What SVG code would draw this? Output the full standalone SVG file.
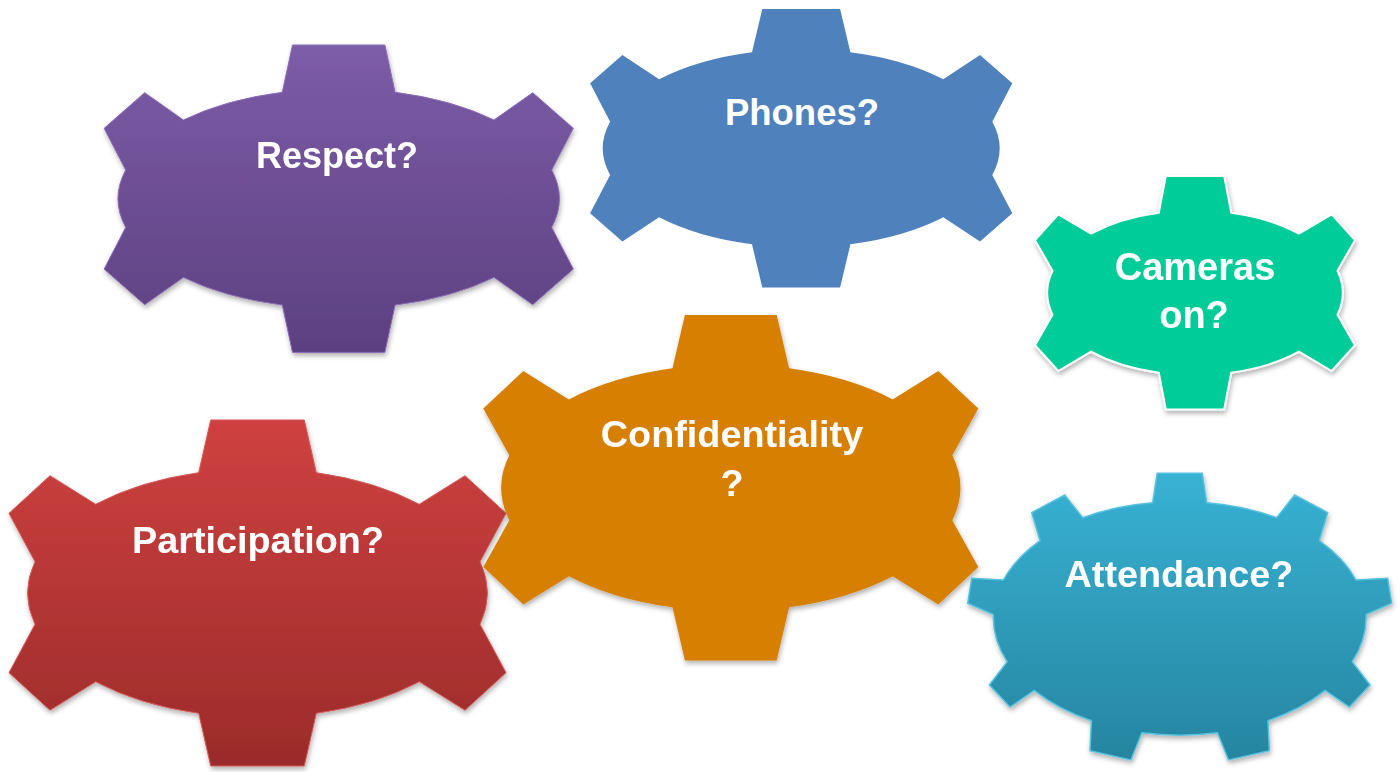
<svg xmlns="http://www.w3.org/2000/svg" width="1400" height="772" viewBox="0 0 1400 772">
<defs>
<linearGradient id="gPurple" x1="0" y1="0" x2="0" y2="1">
<stop offset="0" stop-color="#7D5CA8"/><stop offset="1" stop-color="#5C4080"/>
</linearGradient>
<linearGradient id="gRed" x1="0" y1="0" x2="0" y2="1">
<stop offset="0" stop-color="#CF4140"/><stop offset="1" stop-color="#9B2B2A"/>
</linearGradient>
<linearGradient id="gCyan" x1="0" y1="0" x2="0" y2="1">
<stop offset="0" stop-color="#38B2D4"/><stop offset="1" stop-color="#2685A0"/>
</linearGradient>
<filter id="shadow" x="-10%" y="-10%" width="120%" height="125%">
<feDropShadow dx="1" dy="3" stdDeviation="2.5" flood-color="#000" flood-opacity="0.3"/>
</filter>
</defs>
<style>
.lbl{font-family:"Liberation Sans",Arial,sans-serif;font-weight:bold;fill:#fff;text-anchor:middle}
</style>
<rect width="1400" height="772" fill="#fff"/>
<g id="connectors"/>
<g id="respect" filter="url(#shadow)">
<path fill="url(#gPurple)" stroke="#8B6CB6" stroke-width="1" d="M 282.3,92.3 L 292.5,45 L 384.9,45 L 395.1,92.3 A 220 110 0 0 1 494,120 L 532.7,92.7 L 573.3,128.3 L 551.7,170 A 220 110 0 0 1 551.7,227.4 L 573.3,269.1 L 532.7,304.7 L 494,277.4 A 220 110 0 0 1 395.1,305.1 L 384.9,352.4 L 292.5,352.4 L 282.3,305.1 A 220 110 0 0 1 183.4,277.4 L 144.7,304.7 L 104.1,269.1 L 125.7,227.4 A 220 110 0 0 1 125.7,170 L 104.1,128.3 L 144.7,92.7 L 183.4,120 A 220 110 0 0 1 282.3,92.3 Z"/>
<text class="lbl" x="337" y="168" font-size="36">Respect?</text>
</g>
<g id="phones">
<path fill="#4F81BD" d="M 752,52.3 L 762.3,9 L 840.1,9 L 850.4,52.3 A 197.8 99.1 0 0 1 943.3,79.3 L 980,55 L 1012.3,83.3 L 992.3,121.7 A 197.8 99.1 0 0 1 992.3,174.9 L 1012.3,213.3 L 980,241.6 L 943.3,217.3 A 197.8 99.1 0 0 1 850.4,244.3 L 840.1,287.6 L 762.3,287.6 L 752,244.3 A 197.8 99.1 0 0 1 659.1,217.3 L 622.4,241.6 L 590.1,213.3 L 610.1,174.9 A 197.8 99.1 0 0 1 610.1,121.7 L 590.1,83.3 L 622.4,55 L 659.1,79.3 A 197.8 99.1 0 0 1 752,52.3 Z"/>
<text class="lbl" x="802" y="124.5" font-size="36.5">Phones?</text>
</g>
<g id="cameras" filter="url(#shadow)">
<path fill="#00CC99" stroke="#fff" stroke-width="2" d="M 1158.8,212.7 L 1165.8,176 L 1224.2,176 L 1231.2,212.7 A 145.5 82.6 0 0 1 1299,233.7 L 1331.7,214.4 L 1355,240.2 L 1337.5,270.7 A 145.5 82.6 0 0 1 1337.5,314.7 L 1355,345.2 L 1331.7,371 L 1299,351.7 A 145.5 82.6 0 0 1 1231.2,372.7 L 1224.2,409.4 L 1165.8,409.4 L 1158.8,372.7 A 145.5 82.6 0 0 1 1091,351.7 L 1058.3,371 L 1035,345.2 L 1052.5,314.7 A 145.5 82.6 0 0 1 1052.5,270.7 L 1035,240.2 L 1058.3,214.4 L 1091,233.7 A 145.5 82.6 0 0 1 1158.8,212.7 Z"/>
<text class="lbl" x="1195" y="280" font-size="38">Cameras</text>
<text class="lbl" x="1194" y="328" font-size="38">on?</text>
</g>
<g id="participation" filter="url(#shadow)">
<path fill="url(#gRed)" stroke="#D45A58" stroke-width="1" d="M 198.7,472.7 L 210.7,420 L 304.3,420 L 316.3,472.7 A 229.2 124.5 0 0 1 419.3,504.3 L 465,475.7 L 506,513.3 L 480,561.7 A 229.2 124.5 0 0 1 480,624.3 L 506,672.7 L 465,710.3 L 419.3,681.7 A 229.2 124.5 0 0 1 316.3,713.3 L 304.3,766 L 210.7,766 L 198.7,713.3 A 229.2 124.5 0 0 1 95.7,681.7 L 50,710.3 L 9,672.7 L 35,624.3 A 229.2 124.5 0 0 1 35,561.7 L 9,513.3 L 50,475.7 L 95.7,504.3 A 229.2 124.5 0 0 1 198.7,472.7 Z"/>
<text class="lbl" x="258" y="553" font-size="37.8">Participation?</text>
</g>
<g id="confidentiality" filter="url(#shadow)">
<path fill="#D67F05" d="M 672.5,368.3 L 684.9,315 L 776.7,315 L 789.1,368.3 A 227.8 123.6 0 0 1 892.7,399.4 L 938.3,371 L 978.3,408.6 L 952.3,455.3 A 227.8 123.6 0 0 1 952.3,520.3 L 978.3,567 L 938.3,604.6 L 892.7,576.2 A 227.8 123.6 0 0 1 789.1,607.3 L 776.7,660.6 L 684.9,660.6 L 672.5,607.3 A 227.8 123.6 0 0 1 568.9,576.2 L 523.3,604.6 L 483.3,567 L 509.3,520.3 A 227.8 123.6 0 0 1 509.3,455.3 L 483.3,408.6 L 523.3,371 L 568.9,399.4 A 227.8 123.6 0 0 1 672.5,368.3 Z"/>
<text class="lbl" x="732" y="447" font-size="37.8">Confidentiality</text>
<text class="lbl" x="732" y="496" font-size="37.8">?</text>
</g>
<g id="attendance" filter="url(#shadow)">
<path fill="url(#gCyan)" stroke="#55C2E0" stroke-width="1.5" d="M 1152.7,502.7 L 1157.2,473.3 L 1202.2,473.3 L 1206.7,502.7 A 186 116.5 0 0 1 1276.7,517.7 L 1294.7,495 L 1327.7,512.7 L 1319.3,540.7 A 186 116.5 0 0 1 1356,580 L 1387.7,578.3 L 1391.7,603.3 L 1366,614.5 A 186 116.5 0 0 1 1352.2,661.7 L 1370,685 L 1349.4,707 L 1325.2,690.4 A 186 116.5 0 0 1 1268,720.7 L 1269.4,750.7 L 1228.5,760 L 1217.5,732.7 A 186 116.5 0 0 1 1141.9,732.7 L 1130.9,760 L 1090,750.7 L 1091.4,720.7 A 186 116.5 0 0 1 1034.2,690.4 L 1010,707 L 989.4,685 L 1007.2,661.7 A 186 116.5 0 0 1 993.4,614.5 L 967.7,603.3 L 971.7,578.3 L 1003.4,580 A 186 116.5 0 0 1 1040.1,540.7 L 1031.7,512.7 L 1064.7,495 L 1082.7,517.7 A 186 116.5 0 0 1 1152.7,502.7 Z"/>
<text class="lbl" x="1179" y="587" font-size="37.8">Attendance?</text>
</g>
</svg>
